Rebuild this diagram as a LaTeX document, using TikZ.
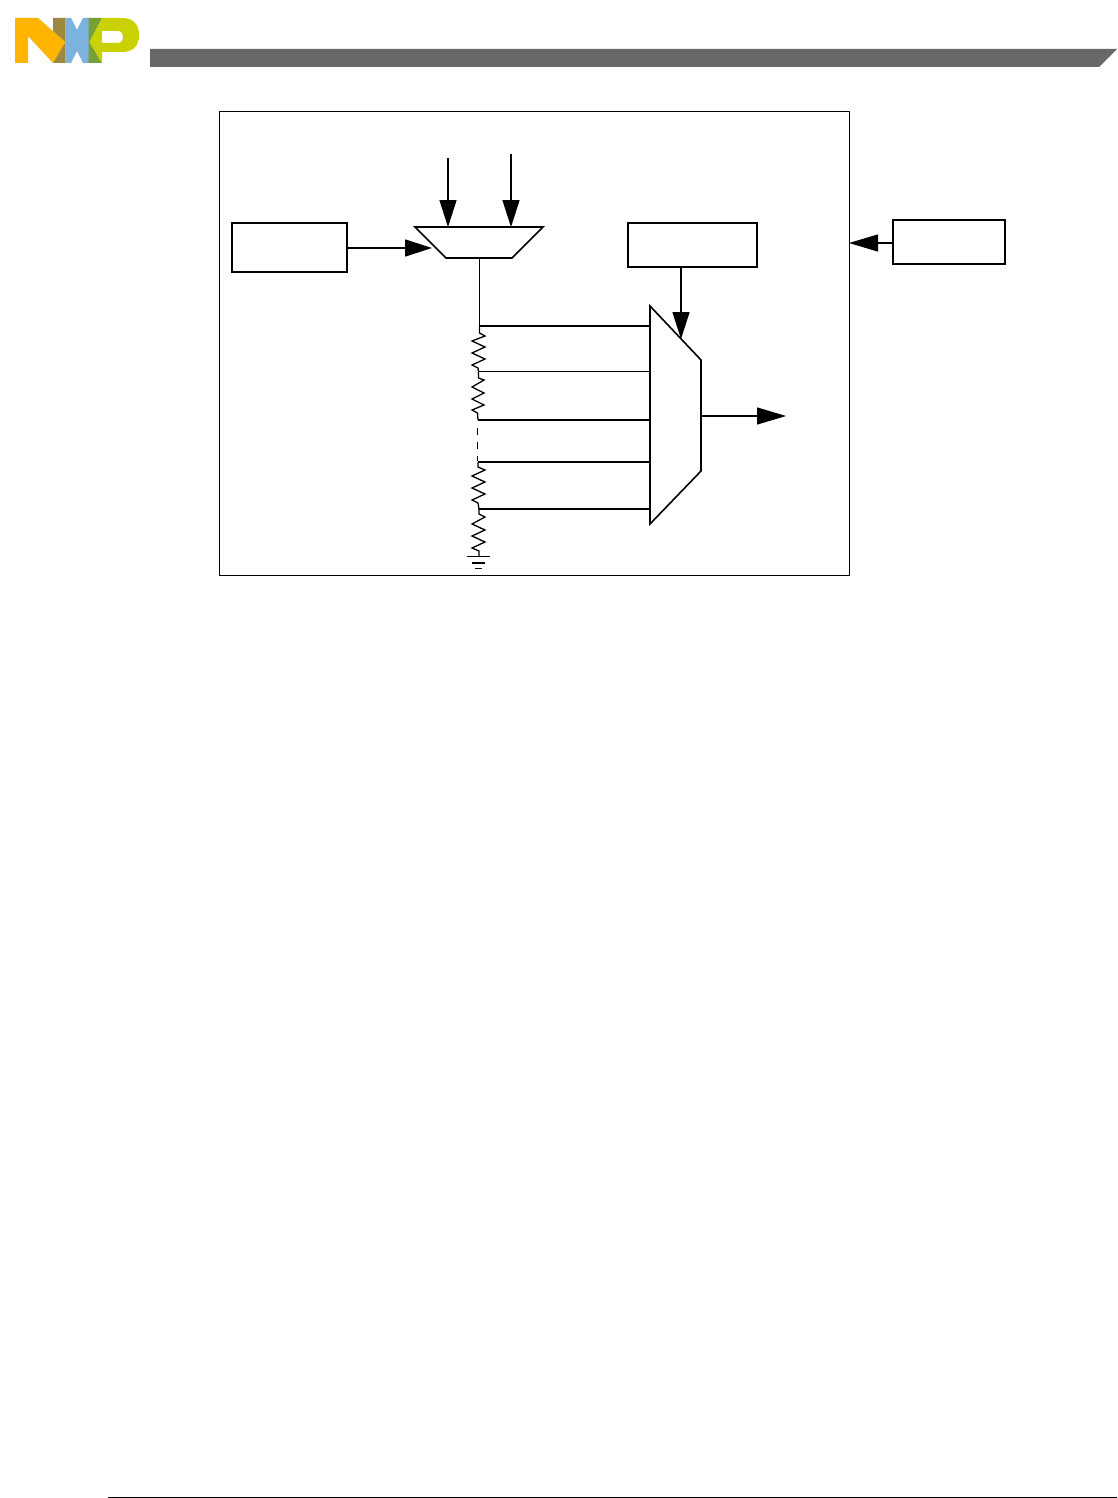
\documentclass[tikz,border=0pt]{standalone}
\usetikzlibrary{arrows.meta}
\definecolor{nxpyellow}{RGB}{255,180,0}
\definecolor{nxpolive}{RGB}{156,137,60}
\definecolor{nxpblue}{RGB}{124,178,222}
\definecolor{nxpgreen}{RGB}{115,160,56}
\definecolor{nxplime}{RGB}{201,210,0}
\definecolor{headgray}{RGB}{104,104,104}
\tikzset{
  wire/.style={line width=1.6pt,black},
  thinwire/.style={line width=1pt,black},
  solidhead/.style={-{Triangle[length=27pt,width=17pt]},line width=1.6pt},
  longhead/.style={-{Triangle[length=29pt,width=17pt]},line width=1.1pt},
  blockbox/.style={draw=black,line width=1.6pt,fill=white,inner sep=0pt,minimum width=#1},
  res/.style={line width=1.3pt,black,line join=miter}
}
\begin{document}
\begin{tikzpicture}[x=1pt,y=-1pt]
\useasboundingbox (0,0) rectangle (1117,1498);
% logo
\fill[nxpyellow] (15,18) -- (38,18) -- (65.5,42) -- (53,63) -- (28,36) -- (28,63) -- (15,63) -- cycle;
\fill[nxpolive] (53,18) -- (65.5,18) -- (65.5,42) -- (53,31) -- cycle;
\fill[nxpolive] (53,63) -- (65.5,63) -- (65.5,42) -- cycle;
\fill[nxpblue] (65.5,18) -- (71,18) -- (77,30) -- (83,18) -- (89,18) -- (89,63) -- (83,63) -- (77,51) -- (71,63) -- (65.5,63) -- cycle;
\fill[nxpgreen] (88.5,18) -- (102,18) -- (89.5,42) -- (102,63) -- (88.5,63) -- cycle;
\fill[nxplime,even odd rule] (102,18) -- (122,18) .. controls (134,18) and (139,25) .. (139,35) .. controls (139,45) and (134,52) .. (122,52) -- (102,52) -- (102,63) -- (89.5,42) -- cycle
  (102,31) -- (118,31) .. controls (125,31) and (125,43) .. (118,43) -- (102,43) -- cycle;
% header bar and foot rule
\fill[headgray] (150,49) -- (1117,49) -- (1099,67) -- (150,67) -- cycle;
\coordinate (footL) at (108,1497.5);
\coordinate (footR) at (1117,1497.5);
\draw[line width=0.9pt] (footL) -- (footR);
% frame
\node[blockbox=630pt,minimum height=464pt,anchor=north west,line width=1.2pt] (frame) at (219,111) {};
% boxes
\node[blockbox=115pt,minimum height=49pt,anchor=north west] (boxA) at (231,222) {};
\node[blockbox=129pt,minimum height=44pt,anchor=north west] (boxB) at (627,222) {};
\node[blockbox=112pt,minimum height=44pt,anchor=north west] (boxC) at (892,219) {};
% reference mux
\coordinate (tl) at (415,227);
\coordinate (tr) at (543,227);
\coordinate (br) at (512,258);
\coordinate (bl) at (446,258);
\draw[wire,line join=miter] (tl) -- (tr) -- (br) -- (bl) -- cycle;
% output mux
\coordinate (ma) at (650,306);
\coordinate (mb) at (701,360);
\coordinate (mc) at (701,471);
\coordinate (md) at (650,524);
\draw[wire,line join=miter] (ma) -- (mb) -- (mc) -- (md) -- cycle;
% input arrows
\coordinate (in1) at (448,158);
\coordinate (in1e) at (448,227);
\coordinate (in2) at (511,154);
\coordinate (in2e) at (511,227);
\draw[solidhead] (in1) -- (in1e);
\draw[solidhead] (in2) -- (in2e);
\coordinate (aEnd) at (432,248);
\draw[solidhead] (boxA.east |- aEnd) -- (aEnd);
\coordinate (bEnd) at (681,339);
\draw[solidhead] (bEnd |- boxB.south) -- (bEnd);
\coordinate (outS) at (701,416);
\coordinate (outE) at (786,416);
\draw[longhead] (outS) -- (outE);
\coordinate (frameHit) at (849,243);
\draw[longhead] (boxC.west |- frameHit) -- (frameHit);
% ladder
\coordinate (t1) at (479.5,326);
\coordinate (t2) at (478.5,371.5);
\coordinate (t3) at (478,420);
\coordinate (t4) at (478,462);
\coordinate (t5) at (479,509);
\coordinate (gnd) at (479,556);
\draw[wire,line width=1.2pt] (479.5,258) -- (t1);
\draw[wire] (t1) -- (650,326);
\draw[thinwire] (t2) -- (650,371.5);
\draw[wire] (t3) -- (650,420);
\draw[wire] (t4) -- (650,462);
\draw[wire] (t5) -- (650,509);
\draw[res] (t1) -- (479.5,333) -- (485,336) -- (472,341) -- (485,347) -- (472,353) -- (485,359) -- (472,365) -- (478,368) -- (t2);
\draw[res] (t2) -- (478.5,378) -- (484,380) -- (472,387) -- (484,393) -- (472,399) -- (484,405) -- (472,410) -- (477.5,413) -- (t3);
\draw[line width=1pt,dash pattern=on 7pt off 7pt] (477.5,428) -- (477.5,461);
\draw[res] (t4) -- (478,467) -- (485,470) -- (472,476) -- (485,482) -- (472,488) -- (485,494) -- (472,500) -- (478,503) -- (t5);
\draw[res] (t5) -- (479,514) -- (485,517) -- (472,524) -- (485,530) -- (472,536) -- (485,542) -- (472,548) -- (479,551) -- (gnd);
\coordinate (g1a) at (467,556.5);
\coordinate (g1b) at (490,556.5);
\coordinate (g2a) at (472,563);
\coordinate (g2b) at (485,563);
\coordinate (g3a) at (475,568);
\coordinate (g3b) at (482,568);
\draw[wire] (g1a) -- (g1b);
\draw[wire] (g2a) -- (g2b);
\draw[line width=0.9pt] (g3a) -- (g3b);
\end{tikzpicture}
\end{document}
